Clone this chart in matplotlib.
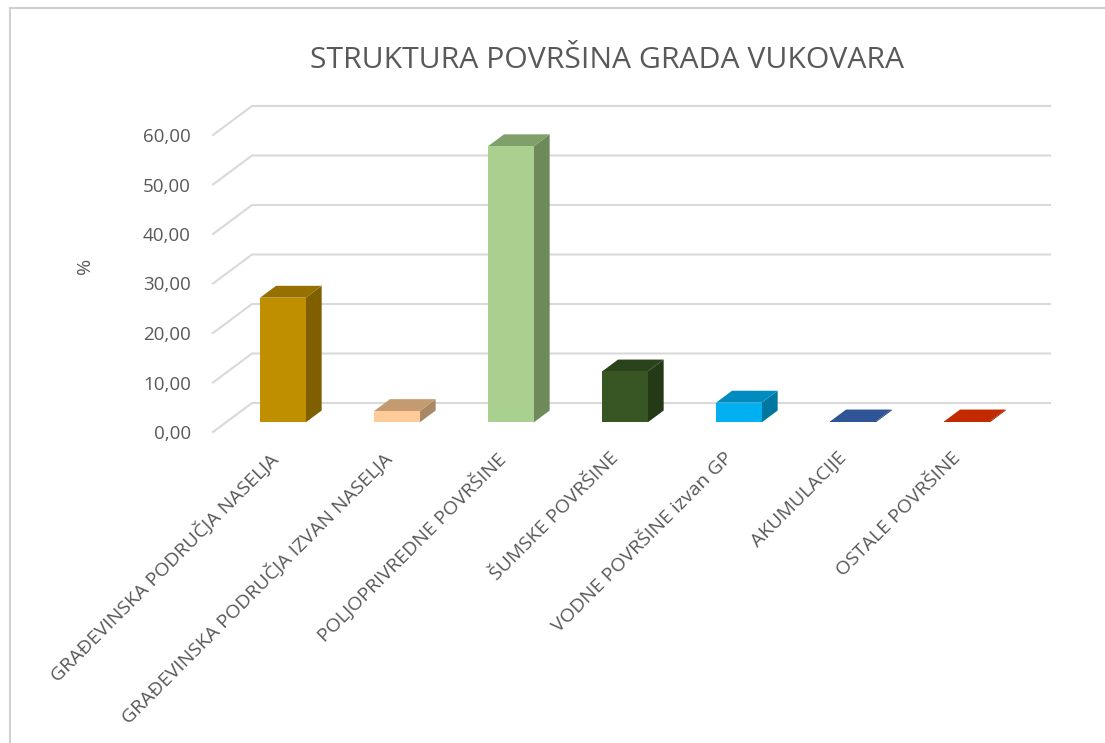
import matplotlib
matplotlib.use("Agg")
import matplotlib.pyplot as plt
from matplotlib.patches import Polygon, Rectangle

plt.rcParams['font.family'] = ['Open Sans', 'DejaVu Sans']

# podaci
kategorije = ["GRAĐEVINSKA PODRUČJA NASELJA",
              "GRAĐEVINSKA PODRUČJA IZVAN NASELJA",
              "POLJOPRIVREDNE POVRŠINE",
              "ŠUMSKE POVRŠINE",
              "VODNE POVRŠINE izvan GP",
              "AKUMULACIJE",
              "OSTALE POVRŠINE"]
vrijednosti = [25.2, 2.3, 55.8, 10.3, 4.0, 0.2, 0.2]
boje_prednje = ['#BF8F00', '#FFCC99', '#A9D08E', '#375623', '#00B0F0', '#2F5597', '#C42A00']
boje_bocne = ['#7F5F00', '#AA8866', '#6E8A5A', '#243A17', '#00779F', '#203A66', '#8A1D00']
boje_gornje = ['#977100', '#C49A70', '#7FA06A', '#2B431B', '#008CC0', '#2F5597', '#C42A00']
y_ticks = [0, 10, 20, 30, 40, 50, 60]

W, H = 1105, 743
fig = plt.figure(figsize=(W / 100, H / 100), dpi=100)

# prednja ravnina osi u pikselima
x0, y0 = 213, 432
sirina, visina = 798, 297
ax = fig.add_axes([x0 / W, (H - y0) / H, sirina / W, visina / H])
ax.set_xlim(-0.5, 6.5)
ax.set_ylim(0, 60)

# dubina (kosa projekcija) u jedinicama podataka
px_x = sirina / 7.0
px_y = visina / 60.0
dub_x = 39 / px_x
dub_y = 29 / px_y

siva = '#D9D9D9'
for t in y_ticks:
    ax.plot([-0.5, -0.5 + dub_x, 6.5 + dub_x], [t, t + dub_y, t + dub_y],
            color=siva, lw=1.5, clip_on=False, zorder=1)

# 3D stupci
d1, d2 = 0.33, 0.74
sir = 0.40
for i, v in enumerate(vrijednosti):
    xl = i - sir / 2 + d1 * dub_x
    xr = xl + sir
    yb = d1 * dub_y
    yt = yb + v
    ox = (d2 - d1) * dub_x
    oy = (d2 - d1) * dub_y
    ax.add_patch(Polygon([(xr, yb), (xr + ox, yb + oy), (xr + ox, yt + oy), (xr, yt)],
                         closed=True, facecolor=boje_bocne[i], edgecolor='none',
                         clip_on=False, zorder=3))
    ax.add_patch(Polygon([(xl, yt), (xr, yt), (xr + ox, yt + oy), (xl + ox, yt + oy)],
                         closed=True, facecolor=boje_gornje[i], edgecolor='none',
                         clip_on=False, zorder=3))
    ax.add_patch(Rectangle((xl, yb), sir, v, facecolor=boje_prednje[i],
                           edgecolor='none', clip_on=False, zorder=4))

for s in ax.spines.values():
    s.set_visible(False)
ax.set_yticks(y_ticks)
ax.set_yticklabels([f"{t:.2f}".replace('.', ',') for t in y_ticks],
                   fontsize=13.5, color='#595959')
ax.tick_params(axis='y', length=0, pad=16)
ax.set_xticks([i - 0.02 for i in range(len(kategorije))])
ax.set_xticklabels(kategorije, rotation=45, ha='right', va='top',
                   rotation_mode='anchor', fontsize=14, color='#595959')
ax.tick_params(axis='x', length=0, pad=12)
ax.set_ylabel('%', fontsize=14, color='#595959', labelpad=35, y=0.56)

fig.text(607 / W, 1 - 61 / H, "STRUKTURA POVRŠINA GRADA VUKOVARA",
         ha='center', va='center', fontsize=21.7, color='#595959')

# okvir grafikona
fig.add_artist(Rectangle((10 / W, -0.1), 1.2, (H - 8) / H + 0.1, transform=fig.transFigure,
                         facecolor='none', edgecolor='#D0D0D0', lw=1.5))

fig.savefig('out.png', dpi=100)
